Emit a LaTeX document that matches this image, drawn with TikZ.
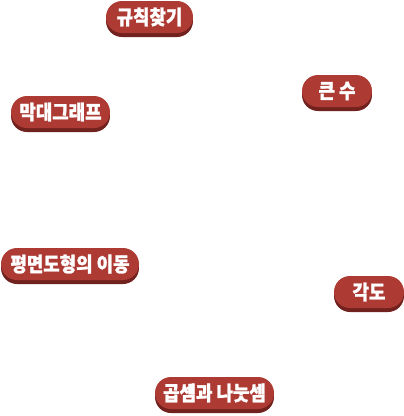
\documentclass[tikz,border=0pt]{standalone}
\usepackage{fontspec}
\newfontfamily\kr{Noto Sans CJK KR}[BoldFeatures={FakeBold=1.4}]
\usetikzlibrary{shadows}
\definecolor{pillred}{HTML}{AE3A34}
\definecolor{pillshadow}{HTML}{72221E}
\newcommand{\pilltext}[1]{\scalebox{1.05}[1.18]{#1}}
\tikzset{
  pill/.style={draw=none, fill=pillred, rounded corners=16bp, minimum height=32bp,
    inner sep=0pt, text=white, font=\kr\bfseries\fontsize{17bp}{18bp}\selectfont,
    drop shadow={shadow xshift=0bp, shadow yshift=-4bp, fill=pillshadow, opacity=1}}
}
\begin{document}
\begin{tikzpicture}[x=1bp,y=-1bp]
\useasboundingbox (0,0) rectangle (404,416);
\node[pill, minimum width=87bp]  (n1) at (149.5,17) {\pilltext{규칙찾기}};
\node[pill, minimum width=70bp]  (n2) at (337,91) {\pilltext{큰 수}};
\node[pill, minimum width=99bp]  (n3) at (60.5,112) {\pilltext{막대그래프}};
\node[pill, minimum width=138bp] (n4) at (70,264) {\pilltext{평면도형의 이동}};
\node[pill, minimum width=70bp]  (n5) at (369,292) {\pilltext{각도}};
\node[pill, minimum width=119bp] (n6) at (214.5,393) {\pilltext{곱셈과 나눗셈}};
\end{tikzpicture}
\end{document}
